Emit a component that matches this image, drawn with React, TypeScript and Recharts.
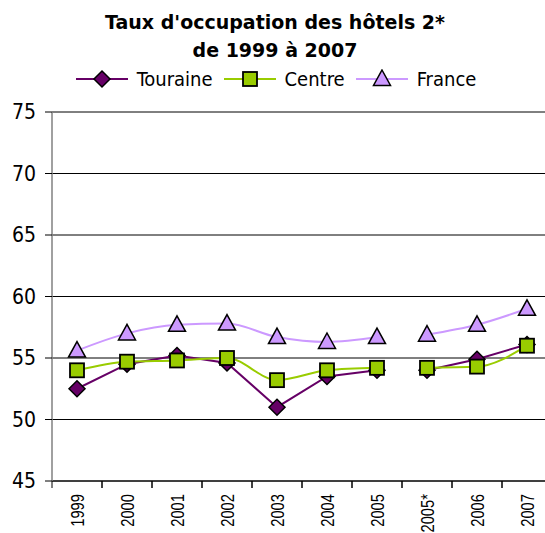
import React from 'react';
import { LineChart, Line, XAxis, YAxis, CartesianGrid, Legend } from 'recharts';

const categories = ['1999', '2000', '2001', '2002', '2003', '2004', '2005', '2005*', '2006', '2007'];
const touraine = [52.5, 54.5, 55.2, 54.6, 51.0, 53.5, 54.0, 54.0, 54.9, 56.1];
const centre = [54.0, 54.7, 54.8, 55.0, 53.2, 54.0, 54.2, 54.2, 54.3, 56.0];
const france = [55.6, 57.0, 57.7, 57.8, 56.7, 56.3, 56.7, 56.9, 57.7, 59.0];
const yTicks = [45, 50, 55, 60, 65, 70, 75];
const breakAfter = '2005'; // the series are interrupted between 2005 and 2005*

const titleLines = ["Taux d'occupation des hôtels 2*", 'de 1999 à 2007'];

const COLORS = { touraine: '#660066', centre: '#99CC00', france: '#CC99FF' };

const breakIdx = categories.indexOf(breakAfter);
const data = categories.map((c, i) => ({
  year: c,
  tA: i <= breakIdx ? touraine[i] : null,
  tB: i > breakIdx ? touraine[i] : null,
  cA: i <= breakIdx ? centre[i] : null,
  cB: i > breakIdx ? centre[i] : null,
  fA: i <= breakIdx ? france[i] : null,
  fB: i > breakIdx ? france[i] : null,
}));

const diamondShape = (cx: number, cy: number, k?: string) => (
  <polygon
    key={k}
    points={`${cx},${cy - 8} ${cx + 8},${cy} ${cx},${cy + 8} ${cx - 8},${cy}`}
    fill={COLORS.touraine}
    stroke="#000"
    strokeWidth={1.5}
  />
);
const squareShape = (cx: number, cy: number, k?: string) => (
  <rect key={k} x={cx - 7} y={cy - 7} width={14} height={14} fill={COLORS.centre} stroke="#000" strokeWidth={1.8} />
);
const triangleShape = (cx: number, cy: number, k?: string) => (
  <polygon
    key={k}
    points={`${cx},${cy - 9} ${cx + 8.5},${cy + 6.5} ${cx - 8.5},${cy + 6.5}`}
    fill={COLORS.france}
    stroke="#000"
    strokeWidth={1.5}
  />
);

const makeDot = (shape: (cx: number, cy: number, k?: string) => React.ReactElement, prefix: string) => (props: any) => {
  const { cx, cy, index, value } = props;
  if (cx == null || cy == null || value == null || isNaN(cy)) return <g key={`${prefix}-${index}`} />;
  return shape(cx, cy, `${prefix}-${index}`);
};

const legendItems = [
  { name: 'Touraine', color: COLORS.touraine, shape: diamondShape },
  { name: 'Centre', color: COLORS.centre, shape: squareShape },
  { name: 'France', color: COLORS.france, shape: triangleShape },
];

const LegendContent = () => (
  <div
    style={{
      height: 30,
      display: 'flex',
      justifyContent: 'center',
      alignItems: 'center',
      fontFamily: "'DejaVu Sans Condensed', 'Liberation Sans', Arial, sans-serif",
      fontSize: 20,
      color: '#000',
    }}
  >
    {legendItems.map((it, i) => (
      <div key={it.name} style={{ display: 'flex', alignItems: 'center', marginLeft: i === 0 ? 0 : 11 }}>
        <svg width={52} height={20} style={{ display: 'block' }}>
          <line x1={0} y1={10} x2={52} y2={10} stroke={it.color} strokeWidth={2} />
          {it.shape(26, 10)}
        </svg>
        <span style={{ marginLeft: 9, lineHeight: '20px' }}>{it.name}</span>
      </div>
    ))}
  </div>
);

const XTick = (props: any) => {
  const { x, y, payload } = props;
  const off = payload && typeof payload.offset === 'number' && payload.offset > 0 ? payload.offset : 25;
  const axisY = y - 13;
  return (
    <g>
      <line x1={x - off} y1={axisY} x2={x - off} y2={axisY + 7} stroke="#000" strokeWidth={1} />
      <line x1={x + off} y1={axisY} x2={x + off} y2={axisY + 7} stroke="#000" strokeWidth={1} />
      <text
        x={0}
        y={0}
        transform={`translate(${x},${y}) rotate(-90) scale(0.82,1)`}
        textAnchor="end"
        dominantBaseline="central"
        fontFamily="'Liberation Sans', Arial, sans-serif"
        fontSize={18}
        fill="#000"
      >
        {payload.value}
      </text>
    </g>
  );
};

export default function App() {
  return (
    <div
      style={{
        position: 'absolute',
        left: 0,
        top: 0,
        width: 545,
        height: 533,
        overflow: 'hidden',
        background: '#fff',
      }}
    >
      <div
        style={{
          position: 'absolute',
          left: 0,
          top: 8,
          width: 550,
          textAlign: 'center',
          fontFamily: "'DejaVu Sans', Verdana, sans-serif",
          fontWeight: 'bold',
          fontSize: 19,
          lineHeight: '28px',
          color: '#000',
        }}
      >
        {titleLines.map((t) => (
          <div key={t}>{t}</div>
        ))}
      </div>
      <LineChart width={560} height={533} data={data} margin={{ top: 82, right: 8, bottom: 0, left: 0 }}>
        <CartesianGrid vertical={false} stroke="#000" strokeWidth={1} />
        <XAxis
          dataKey="year"
          interval={0}
          height={52}
          padding={{ left: 25, right: 25 }}
          axisLine={{ stroke: '#000', strokeWidth: 1 }}
          tickLine={false}
          tickSize={7}
          tickMargin={6}
          tick={<XTick />}
        />
        <YAxis
          domain={[45, 75]}
          ticks={yTicks}
          width={52}
          axisLine={{ stroke: '#808080', strokeWidth: 1.5 }}
          tickLine={{ stroke: '#000', strokeWidth: 1 }}
          tickSize={7}
          tickMargin={9}
          tick={{ fontSize: 21, fill: '#000', fontFamily: "'DejaVu Sans Condensed', 'Liberation Sans', Arial, sans-serif" }}
          allowDataOverflow
        />
        <Legend verticalAlign="top" align="center" content={<LegendContent />} wrapperStyle={{ top: 64, left: 0, width: 552, height: 30 }} />
        <Line type="linear" dataKey="tA" name="Touraine" stroke={COLORS.touraine} strokeWidth={2} dot={makeDot(diamondShape, 'tA')} isAnimationActive={false} connectNulls={false} />
        <Line type="linear" dataKey="tB" name="Touraine*" legendType="none" stroke={COLORS.touraine} strokeWidth={2} dot={makeDot(diamondShape, 'tB')} isAnimationActive={false} connectNulls={false} />
        <Line type="monotone" dataKey="cA" name="Centre" stroke={COLORS.centre} strokeWidth={2} dot={makeDot(squareShape, 'cA')} isAnimationActive={false} connectNulls={false} />
        <Line type="monotone" dataKey="cB" name="Centre*" legendType="none" stroke={COLORS.centre} strokeWidth={2} dot={makeDot(squareShape, 'cB')} isAnimationActive={false} connectNulls={false} />
        <Line type="monotone" dataKey="fA" name="France" stroke={COLORS.france} strokeWidth={2} dot={makeDot(triangleShape, 'fA')} isAnimationActive={false} connectNulls={false} />
        <Line type="monotone" dataKey="fB" name="France*" legendType="none" stroke={COLORS.france} strokeWidth={2} dot={makeDot(triangleShape, 'fB')} isAnimationActive={false} connectNulls={false} />
      </LineChart>
    </div>
  );
}
